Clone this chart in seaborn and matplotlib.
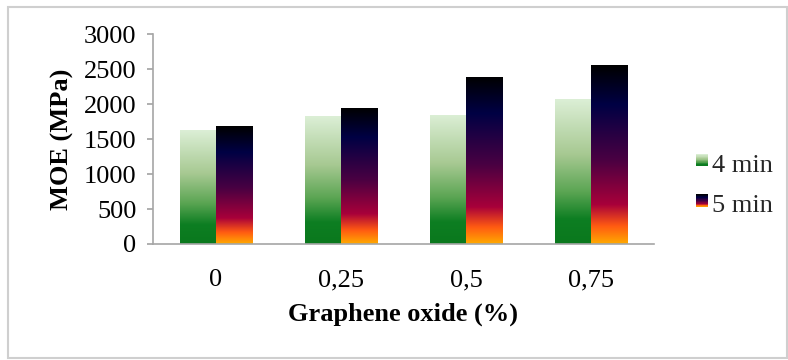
import numpy as np
import pandas as pd
import matplotlib
matplotlib.use("Agg")
import matplotlib.pyplot as plt
from matplotlib.colors import LinearSegmentedColormap
from matplotlib.patches import Rectangle
from matplotlib.legend_handler import HandlerBase
import seaborn as sns

# ---- data ----
categories = ["0", "0,25", "0,5", "0,75"]
series_names = ["4 min", "5 min"]
moe_4min = [1625, 1825, 1845, 2065]
moe_5min = [1680, 1950, 2390, 2555]
y_ticks = [0, 500, 1000, 1500, 2000, 2500, 3000]

df = pd.DataFrame({
    "GO": categories * 2,
    "Time": [series_names[0]] * 4 + [series_names[1]] * 4,
    "MOE": moe_4min + moe_5min,
})

sns.set_theme(style="white")
plt.rcParams["font.family"] = ["Liberation Serif", "DejaVu Serif"]

FS = 19

green_cmap = LinearSegmentedColormap.from_list("green", [
    (0.0, "#0a781d"), (0.17, "#0d7e22"), (0.36, "#5ba553"),
    (0.62, "#a7c992"), (1.0, "#dcefd6")])
fire_cmap = LinearSegmentedColormap.from_list("fire", [
    (0.0, "#ffaa00"), (0.10, "#ff5a12"), (0.22, "#a8003a"),
    (0.47, "#4a0042"), (0.78, "#000044"), (1.0, "#000000")])
cmaps = [green_cmap, fire_cmap]

fig = plt.figure(figsize=(7.88, 3.6), dpi=100)
ax = fig.add_axes([153 / 788, 1 - 244 / 360, (654 - 153) / 788, (244 - 34) / 360])

sns.barplot(data=df, x="GO", y="MOE", hue="Time", order=categories,
            hue_order=series_names, width=0.575, ax=ax, legend=False,
            errorbar=None, saturation=1)

ax.set_ylim(0, 3000)
ax.set_xlim(-0.5, 3.5)
ax.set_autoscale_on(False)

grad = np.linspace(0, 1, 256).reshape(-1, 1)
for cont, cmap in zip(ax.containers, cmaps):
    for patch in cont.patches:
        x0, y0 = patch.get_x(), patch.get_y()
        w, h = patch.get_width(), patch.get_height()
        im = ax.imshow(grad, cmap=cmap, origin="lower", aspect="auto",
                       extent=[x0, x0 + w, y0, y0 + h], zorder=2,
                       interpolation="bilinear")
        im.set_clip_path(patch)
        patch.set_facecolor("none")
        patch.set_edgecolor("none")

ax.set_ylim(0, 3000)
ax.set_xlim(-0.5, 3.5)

# axes styling
for s in ["top", "right"]:
    ax.spines[s].set_visible(False)
for s in ["left", "bottom"]:
    ax.spines[s].set_color("#a6a6a6")
    ax.spines[s].set_linewidth(1.2)
ax.set_yticks(y_ticks)
ax.tick_params(axis="y", left=True, length=4, color="#a6a6a6", labelsize=FS,
               pad=8, labelcolor="black")
ax.tick_params(axis="x", bottom=False, labelsize=FS, pad=12, labelcolor="black")
ax.set_ylabel("MOE (MPa)", fontsize=FS, fontweight="bold", labelpad=7,
              color="black")
ax.set_xlabel("Graphene oxide (%)", fontsize=FS, fontweight="bold", labelpad=8,
              color="black")


class GradHandler(HandlerBase):
    def __init__(self, cmap):
        super().__init__()
        self.cmap = cmap

    def create_artists(self, legend, orig_handle, xdescent, ydescent,
                       width, height, fontsize, trans):
        n = 20
        arts = []
        y0 = -ydescent + 1.5
        for i in range(n):
            r = Rectangle((-xdescent, y0 + height * i / n), width,
                          height / n + 0.2,
                          facecolor=self.cmap((i + 0.5) / n),
                          edgecolor="none", transform=trans)
            arts.append(r)
        return arts


h1 = Rectangle((0, 0), 1, 1)
h2 = Rectangle((0, 0), 1, 1)
leg = fig.legend([h1, h2], series_names,
                 handler_map={h1: GradHandler(green_cmap),
                              h2: GradHandler(fire_cmap)},
                 loc="center left", bbox_to_anchor=(696 / 788, 1 - 186 / 360),
                 frameon=False, fontsize=FS, handlelength=0.45,
                 handleheight=0.32, handletextpad=0.15, labelspacing=0.7,
                 borderaxespad=0, borderpad=0)

# outer frame
fig.patches.append(Rectangle((8 / 788, 2 / 360), 779 / 788, 351 / 360,
                             transform=fig.transFigure, fill=False,
                             edgecolor="#cfcfcf", linewidth=1.5))

fig.savefig("out.png", dpi=100)
